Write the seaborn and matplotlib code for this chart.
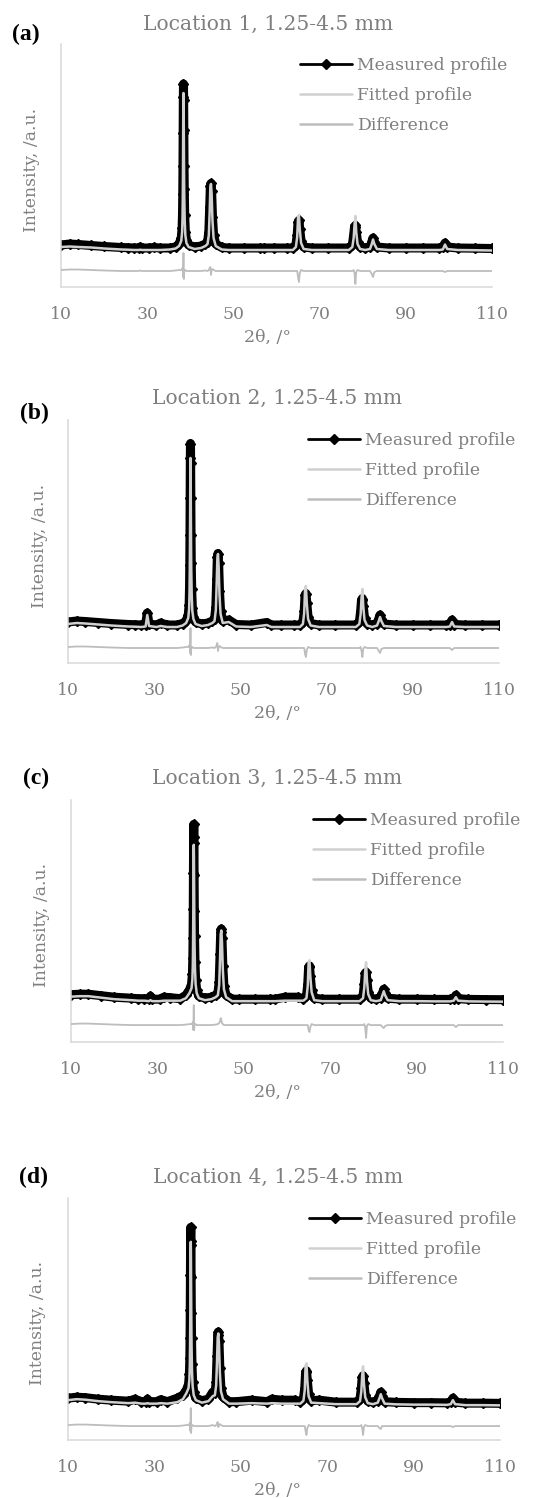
import matplotlib
matplotlib.use("Agg")
import matplotlib.pyplot as plt
import numpy as np
import pandas as pd
import seaborn as sns

# ---------------- data (intensity in arbitrary units) -------------
TWO_THETA = (
    [10, 12, 14, 17, 20, 24, 25.5, 27, 28, 28.4, 28.8, 30.5, 31.5, 33, 35.3, 36.6, 37.4]
    + [37.9, 38.1, 38.2, 38.25, 38.3, 38.34, 38.38, 38.42, 38.46, 38.5, 38.55, 38.6, 38.7, 38.85, 39.1, 39.6]
    + [41, 42.5, 43.5, 44.0]
    + [44.3, 44.5, 44.65, 44.8, 44.95, 45.15, 45.4, 45.9]
    + [47.3, 49, 52.5, 56.1, 57.2, 59.5, 62.5, 63.8]
    + [64.5, 64.8, 65.0, 65.2, 65.4, 65.7, 66.3]
    + [68.2, 72, 76.8]
    + [77.6, 77.9, 78.1, 78.3, 78.5, 78.8, 79.4]
    + [80.6, 81.7, 82.1, 82.4, 82.7, 83.3]
    + [86, 90, 94, 97.8]
    + [98.6, 99.1, 99.6]
    + [102, 106, 110]
)

# Location 1
MEAS_A = ([42, 43, 42.5, 41.5, 40.5, 39.5, 39.3, 39, 39, 40, 39, 39, 39.5, 39, 39, 40, 43]
          + [49, 59, 75, 93, 121, 154, 190, 203, 187, 157, 121, 98, 72, 55, 47, 42]
          + [40, 41, 43, 45]
          + [55, 80, 101, 103.5, 96, 70, 52, 43]
          + [39.5, 39, 39, 39, 39, 39, 39, 39]
          + [42, 52, 65, 66.5, 58, 46, 40]
          + [39, 39, 39]
          + [42, 52, 60, 61.5, 55, 45, 40]
          + [39, 40, 45, 49, 45, 40]
          + [39, 39, 39, 39]
          + [39.5, 44, 40]
          + [39, 38.8, 38.5])
FIT_A = ([40, 40.5, 40, 39.5, 38.5, 37.5, 37.3, 37, 37, 37.3, 37, 37, 37, 37, 37.5, 38.5, 41]
         + [46, 55, 70, 88, 116, 150, 183, 194, 181, 152, 116, 92, 67, 52, 44, 40]
         + [38, 39, 41, 43]
         + [52, 76, 100, 103, 93, 66, 49, 41]
         + [37.5, 37, 37, 37, 37, 37, 37, 37]
         + [40, 50, 70, 72, 58, 44, 38]
         + [37, 37, 37]
         + [40, 49, 62, 71, 55, 43, 38]
         + [37, 38, 43, 47.5, 43, 38]
         + [37, 37, 37, 37]
         + [37.5, 42.5, 38]
         + [37, 36.8, 36.5])
DIFF_A = ([17, 17.5, 17.5, 17, 16.5, 16, 16, 16, 16, 16.5, 16, 16, 16, 16, 16, 16.5, 17]
          + [17, 18, 19, 18, 14, 10, 22, 34, 10, 8, 12, 15, 17, 17, 16, 16]
          + [16, 16, 16.5, 16]
          + [17, 19, 20, 12, 17, 18, 17, 16]
          + [16, 16, 16, 16, 16, 16, 16, 16]
          + [16, 16, 10, 5, 14, 17, 16]
          + [16, 16, 16]
          + [16, 17, 14, 3, 15, 17, 16]
          + [16, 16, 13, 10, 15, 16]
          + [16, 16, 16, 16]
          + [16, 15, 16]
          + [16, 16, 16])

# Location 2
MEAS_B = ([41, 42, 41.5, 40.5, 39.5, 38.5, 38.3, 38, 38.5, 50, 39, 38, 40, 38, 38, 39.5, 42]
          + [48, 58, 76, 98, 128, 165, 205, 219.5, 200, 165, 128, 100, 74, 55, 46, 41]
          + [39, 40, 42, 44]
          + [56, 84, 106, 109.5, 100, 72, 52, 42]
          + [43, 38.5, 38, 40.5, 38, 38, 38, 38]
          + [41, 52, 68, 69.5, 60, 46, 39.5]
          + [38, 38, 38]
          + [41, 52, 63, 64.5, 57, 45, 39.5]
          + [38, 39.5, 44, 48, 44, 39]
          + [38, 38, 38, 38]
          + [38.5, 43, 38.5]
          + [38, 38, 38])
FIT_B = ([39, 40, 39.5, 38.5, 37.5, 36.5, 36.3, 36, 36.5, 48, 37, 36, 37, 36, 36, 37.5, 40]
         + [45, 54, 71, 92, 120, 156, 192, 205, 188, 156, 120, 94, 69, 52, 44, 39]
         + [37, 38, 40, 42]
         + [53, 80, 104, 109, 97, 68, 49, 40]
         + [41, 36.5, 36, 38, 36, 36, 36, 36]
         + [39, 50, 74, 77, 60, 44, 37.5]
         + [36, 36, 36]
         + [39, 49, 65, 74, 57, 43, 37.5]
         + [36, 37.5, 42, 46, 42, 37]
         + [36, 36, 36, 36]
         + [36.5, 41, 36.5]
         + [36, 36, 36])
DIFF_B = ([16, 16.5, 16.5, 16, 15.5, 15, 15, 15, 15, 15, 15, 15, 15, 15, 15, 15.5, 16]
          + [16, 17, 18, 17, 13, 10, 22, 35, 10, 8, 12, 15, 16, 16, 15, 15]
          + [15, 15, 15.5, 15]
          + [16, 18, 20, 12, 16, 17, 16, 15]
          + [15, 15, 15, 15, 15, 15, 15, 15]
          + [15, 15, 9, 6, 13, 16, 15]
          + [15, 15, 15]
          + [15, 16, 12, 6, 14, 16, 15]
          + [15, 15, 12, 10, 14, 15]
          + [15, 15, 15, 15]
          + [15, 13, 15]
          + [15, 15, 15])

# Location 3
MEAS_C = ([47.5, 48, 48, 46.5, 45, 44, 43.5, 43.5, 43, 46, 43, 43, 45, 44.5, 43.5, 47, 52]
          + [58, 68, 84, 104, 134, 170, 206, 218.5, 200, 168, 132, 106, 80, 62, 52, 46]
          + [44, 45, 47, 49]
          + [60, 88, 110, 113.5, 104, 76, 56, 47]
          + [43, 43, 43, 43, 43, 45, 45, 43.5]
          + [46, 58, 75, 76.5, 66, 52, 44]
          + [43, 43, 43]
          + [46, 58, 69, 70, 62, 50, 44]
          + [43, 44, 49, 53, 49, 44]
          + [43, 43, 42.8, 42.8]
          + [43.5, 47, 43.5]
          + [42.8, 42.6, 42.5])
FIT_C = ([45.5, 46, 46, 44.5, 43, 42, 41.5, 41.5, 41, 42, 41, 41, 41.5, 41.5, 41.5, 44, 49]
         + [54, 63, 78, 97, 125, 160, 190, 198, 186, 158, 124, 98, 74, 58, 49, 44]
         + [42, 43, 45, 47]
         + [57, 84, 108, 112, 100, 72, 53, 45]
         + [41, 41, 41, 41, 41, 41.5, 41.5, 41.5]
         + [44, 56, 80, 82, 66, 50, 42]
         + [41, 41, 41]
         + [44, 55, 71, 80, 62, 48, 42]
         + [41, 42, 47, 51, 47, 42]
         + [41, 41, 40.8, 40.8]
         + [41.5, 45, 41.5]
         + [40.8, 40.6, 40.5])
DIFF_C = ([18, 18.5, 18.5, 18, 17.5, 17, 17, 17, 17, 17, 17, 17, 17, 17, 17, 17.5, 18]
          + [18, 19, 20, 19, 15, 12, 24, 37, 12, 12, 14, 17, 18, 18, 17, 17]
          + [17, 17, 17.5, 18]
          + [19, 21, 24, 22, 19, 18, 17, 17]
          + [17, 17, 17, 17, 17, 17, 17, 17]
          + [17, 17, 12, 10, 15, 18, 17]
          + [17, 17, 17]
          + [17, 18, 15, 4, 16, 18, 17]
          + [17, 17, 15, 14, 16, 17]
          + [17, 17, 17, 17]
          + [17, 15, 17]
          + [17, 17, 17])

# Location 4
MEAS_D = ([42, 43, 42.5, 41, 40, 39, 41, 38.5, 38.5, 41, 38.5, 38.5, 40.5, 38.5, 42, 45, 50]
          + [56, 66, 82, 102, 131, 166, 200, 213.5, 196, 164, 128, 102, 76, 58, 48, 42]
          + [39.5, 41, 48, 47]
          + [58, 84, 105, 108.5, 99, 72, 52, 43]
          + [38.5, 38.5, 40, 38.5, 41, 40, 40, 38.5]
          + [41.5, 52, 68, 69.5, 60, 46, 39.5]
          + [40, 38, 38]
          + [41, 52, 63, 64.5, 57, 45, 39]
          + [38, 39.5, 44, 48, 44, 38.5]
          + [37.8, 37.5, 37.5, 37.3]
          + [38, 42, 38]
          + [37, 37, 36.8])
FIT_D = ([40, 41, 40.5, 39, 38, 37, 37.5, 36.5, 36.5, 37, 36.5, 36.5, 37, 36.5, 38, 41, 47]
         + [52, 61, 76, 95, 122, 156, 188, 199, 184, 154, 120, 95, 70, 54, 45, 40]
         + [37.5, 39, 44, 45]
         + [55, 80, 103, 107, 96, 68, 49, 41]
         + [36.5, 36.5, 37, 36.5, 37, 36.5, 36.5, 36.5]
         + [39.5, 50, 75, 77, 60, 44, 37.5]
         + [37, 36, 36]
         + [39, 49, 65, 74, 57, 43, 37]
         + [36, 37.5, 42, 46, 42, 36.5]
         + [35.8, 35.5, 35.5, 35.3]
         + [36, 40, 36]
         + [35, 35, 34.8])
DIFF_D = ([15, 15.5, 15.5, 15, 14.5, 14, 14, 14, 14, 14, 14, 14, 14, 14, 14, 14.5, 15]
          + [15, 16, 17, 16, 12, 9, 20, 32, 9, 7, 11, 14, 15, 15, 14, 14]
          + [14, 14, 15, 14]
          + [15, 17, 18, 13, 15, 16, 15, 14]
          + [14, 14, 14, 14, 14, 14, 14, 14]
          + [14, 14, 9, 5, 12, 15, 14]
          + [14, 14, 14]
          + [14, 15, 12, 5, 13, 15, 14]
          + [14, 14, 12, 11, 14, 14]
          + [14, 14, 14, 14]
          + [14, 13, 14]
          + [14, 14, 14])

PANEL_LABELS = ["(a)", "(b)", "(c)", "(d)"]
TITLES = ["Location 1, 1.25-4.5 mm", "Location 2, 1.25-4.5 mm",
          "Location 3, 1.25-4.5 mm", "Location 4, 1.25-4.5 mm"]
SERIES_NAMES = ["Measured profile", "Fitted profile", "Difference"]
X_TICKS = [10, 30, 50, 70, 90, 110]
X_LABEL = "2θ, /°"
Y_LABEL = "Intensity, /a.u."
Y_MAX = 243

DATA = [(MEAS_A, FIT_A, DIFF_A), (MEAS_B, FIT_B, DIFF_B),
        (MEAS_C, FIT_C, DIFF_C), (MEAS_D, FIT_D, DIFF_D)]

# ---------------- layout (pixels) ----------------
W, H = 544, 1498
BOXES = [(61, 44, 492, 287), (68, 420, 499, 663), (71, 800, 503, 1042), (68, 1198, 500, 1440)]
TITLE_XY = [(268, 24), (277, 398), (277, 778), (278, 1177)]
LABEL_XY = [(26, 34), (34, 413), (36, 778), (34, 1177)]
YLABEL_X = [32, 40, 42, 38]
XLABEL_X = [268, 277, 277, 277]
LEGEND_XY = [(300, 57), (308, 432), (313, 812), (309, 1211)]

TEXT = "#7f7f7f"
AXIS = "#d9d9d9"
FIT_COLOR = "#d0d0d0"
DIFF_COLOR = "#bdbdbd"

sns.set_style("white")
plt.rcParams["font.family"] = ["DejaVu Serif", "DejaVu Sans"]

fig = plt.figure(figsize=(W / 100, H / 100), dpi=100)

for i, (meas, fit, diff) in enumerate(DATA):
    assert len(meas) == len(TWO_THETA) == len(fit) == len(diff), i
    l, t, r, b = BOXES[i]
    aw, ah = r - l, b - t
    ax = fig.add_axes([l / W, 1 - b / H, aw / W, ah / H])
    df = pd.DataFrame({"two_theta": TWO_THETA, SERIES_NAMES[0]: meas,
                       SERIES_NAMES[1]: fit, SERIES_NAMES[2]: diff})
    sns.lineplot(data=df, x="two_theta", y=SERIES_NAMES[0], ax=ax, color="black",
                 linewidth=6.5, marker="D", markersize=5, markeredgecolor="black",
                 markeredgewidth=1, estimator=None, sort=False, label=SERIES_NAMES[0],
                 zorder=2, solid_joinstyle="round", solid_capstyle="round")
    sns.lineplot(data=df, x="two_theta", y=SERIES_NAMES[1], ax=ax, color=FIT_COLOR,
                 linewidth=1.8, estimator=None, sort=False, label=SERIES_NAMES[1], zorder=3)
    sns.lineplot(data=df, x="two_theta", y=SERIES_NAMES[2], ax=ax, color=DIFF_COLOR,
                 linewidth=1.3, estimator=None, sort=False, label=SERIES_NAMES[2], zorder=3)

    ax.set_xlim(10, 110)
    ax.set_ylim(0, Y_MAX)
    ax.set_xticks(X_TICKS)
    ax.set_xticklabels([str(v) for v in X_TICKS])
    ax.set_yticks([])
    for s in ["top", "right"]:
        ax.spines[s].set_visible(False)
    for s in ["left", "bottom"]:
        ax.spines[s].set_color(AXIS)
        ax.spines[s].set_linewidth(1.1)
    ax.tick_params(axis="x", direction="inout", length=7, width=1.1, color=AXIS,
                   labelcolor=TEXT, labelsize=12.4, pad=10)

    ax.set_xlabel(X_LABEL, fontsize=12.4, color=TEXT)
    ax.xaxis.label.set_va("center")
    ax.xaxis.set_label_coords((XLABEL_X[i] - l) / aw, -50 / ah)
    ax.set_ylabel(Y_LABEL, fontsize=12.4, color=TEXT)
    ax.yaxis.label.set_va("center")
    ax.yaxis.set_label_coords((YLABEL_X[i] - l) / aw, 0.5 - 4 / ah)

    lx, ly = LEGEND_XY[i]
    leg = ax.legend(loc="upper left", bbox_to_anchor=((lx - l) / aw, 1 - (ly - t) / ah),
                    frameon=False, fontsize=12.4, handlelength=3.0, handletextpad=0.3,
                    labelspacing=0.75, borderpad=0, borderaxespad=0, labelcolor=TEXT,
                    numpoints=1)
    hs = leg.legend_handles
    hs[0].set_linewidth(2.0)
    hs[0].set_markersize(5)
    hs[1].set_linewidth(1.8)
    hs[2].set_linewidth(1.8)

    tx, ty = TITLE_XY[i]
    fig.text(tx / W, 1 - ty / H, TITLES[i], ha="center", va="center",
             fontsize=14.6, color=TEXT)
    px, py = LABEL_XY[i]
    fig.text(px / W, 1 - py / H, PANEL_LABELS[i], ha="center", va="center",
             fontsize=17, fontweight="bold", color="black", family="Liberation Serif")

fig.savefig("out.png", dpi=100)
